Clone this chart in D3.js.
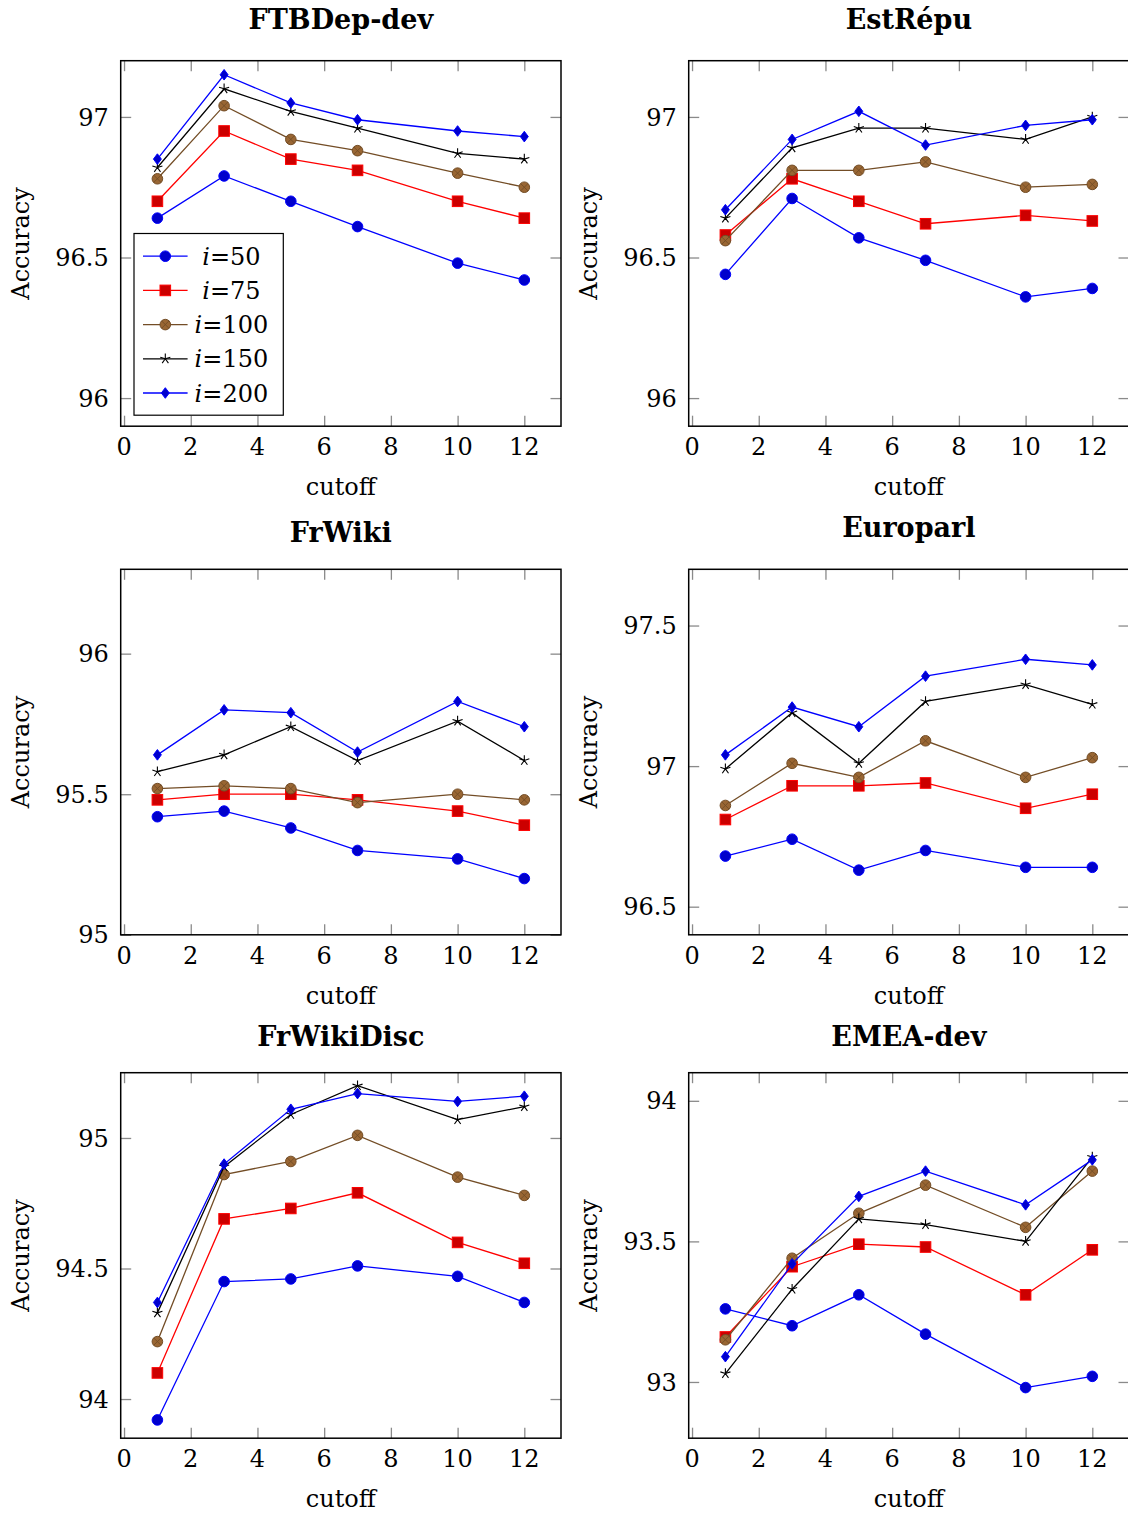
<!DOCTYPE html>
<html>
<head>
<meta charset="utf-8">
<script src="https://cdn.jsdelivr.net/npm/d3@7"></script>
<style>
  html, body { margin: 0; padding: 0; background: #fff; }
  svg { display: block; }
</style>
</head>
<body>
<svg id="chart" width="1128" height="1513"></svg>
<script>
// ---------------- data ----------------
const cutoffs = [1, 3, 5, 7, 10, 12];
const iValues = [50, 75, 100, 150, 200];
const xTicks = [0, 2, 4, 6, 8, 10, 12];
const panelTitles = ["FTBDep-dev", "EstRépu", "FrWiki", "Europarl", "FrWikiDisc", "EMEA-dev"];

// rows: i=50, i=75, i=100, i=150, i=200 ; columns follow cutoffs
const ftbDepDev = [
  [96.64, 96.79, 96.70, 96.61, 96.48, 96.42],
  [96.70, 96.95, 96.85, 96.81, 96.70, 96.64],
  [96.78, 97.04, 96.92, 96.88, 96.80, 96.75],
  [96.82, 97.10, 97.02, 96.96, 96.87, 96.85],
  [96.85, 97.15, 97.05, 96.99, 96.95, 96.93]
];
const estRepu = [
  [96.44, 96.71, 96.57, 96.49, 96.36, 96.39],
  [96.58, 96.78, 96.70, 96.62, 96.65, 96.63],
  [96.56, 96.81, 96.81, 96.84, 96.75, 96.76],
  [96.64, 96.89, 96.96, 96.96, 96.92, 97.00],
  [96.67, 96.92, 97.02, 96.90, 96.97, 96.99]
];
const frWiki = [
  [95.42, 95.44, 95.38, 95.30, 95.27, 95.20],
  [95.48, 95.50, 95.50, 95.48, 95.44, 95.39],
  [95.52, 95.53, 95.52, 95.47, 95.50, 95.48],
  [95.58, 95.64, 95.74, 95.62, 95.76, 95.62],
  [95.64, 95.80, 95.79, 95.65, 95.83, 95.74]
];
const europarl = [
  [96.68, 96.74, 96.63, 96.70, 96.64, 96.64],
  [96.81, 96.93, 96.93, 96.94, 96.85, 96.90],
  [96.86, 97.01, 96.96, 97.09, 96.96, 97.03],
  [96.99, 97.19, 97.01, 97.23, 97.29, 97.22],
  [97.04, 97.21, 97.14, 97.32, 97.38, 97.36]
];
const frWikiDisc = [
  [93.92, 94.45, 94.46, 94.51, 94.47, 94.37],
  [94.10, 94.69, 94.73, 94.79, 94.60, 94.52],
  [94.22, 94.86, 94.91, 95.01, 94.85, 94.78],
  [94.33, 94.89, 95.09, 95.20, 95.07, 95.12],
  [94.37, 94.90, 95.11, 95.17, 95.14, 95.16]
];
const emeaDev = [
  [93.26, 93.20, 93.31, 93.17, 92.98, 93.02],
  [93.16, 93.41, 93.49, 93.48, 93.31, 93.47],
  [93.15, 93.44, 93.60, 93.70, 93.55, 93.75],
  [93.03, 93.33, 93.58, 93.56, 93.50, 93.80],
  [93.09, 93.42, 93.66, 93.75, 93.63, 93.79]
];
const panelData = [ftbDepDev, estRepu, frWiki, europarl, frWikiDisc, emeaDev];

const yTicksList = [
  [96, 96.5, 97], [96, 96.5, 97], [95, 95.5, 96],
  [96.5, 97, 97.5], [94, 94.5, 95], [93, 93.5, 94]
];
const yDomains = [
  [95.9, 97.2], [95.9, 97.2], [95.0, 96.3],
  [96.4, 97.7], [93.85, 95.25], [92.8, 94.1]
];

// ---------------- styles (pgfplots default cycle) ----------------
const styles = [
  { line: "#0000ff", fill: "#0000cc", stroke: "#0000ff", mark: "circle" },
  { line: "#ff0000", fill: "#cc0000", stroke: "#ff0000", mark: "square" },
  { line: "#734d26", fill: "#996633", stroke: "#734d26", mark: "otimes" },
  { line: "#000000", fill: "none",    stroke: "#000000", mark: "star" },
  { line: "#0000ff", fill: "#0000cc", stroke: "#0000ff", mark: "diamond" }
];
const MS = 5.3; // mark size

const serif = "'DejaVu Serif', serif";
const tickSize = 24, labelSize = 24, legendSize = 24;
const titleFont = "'DejaVu Serif', serif";

const svg = d3.select("#chart");
const colX = [120.7, 688.7];
const rowY = [60.7, 569.3, 1072.7];
const boxW = 440.3, boxH = 365.5;

function drawMark(g, type, st) {
  if (type === "circle") {
    g.append("circle").attr("r", MS).attr("fill", st.fill).attr("stroke", st.stroke).attr("stroke-width", 1);
  } else if (type === "square") {
    g.append("rect").attr("x", -MS).attr("y", -MS).attr("width", 2 * MS).attr("height", 2 * MS)
      .attr("fill", st.fill).attr("stroke", st.stroke).attr("stroke-width", 1);
  } else if (type === "otimes") {
    g.append("circle").attr("r", MS).attr("fill", st.fill).attr("stroke", st.stroke).attr("stroke-width", 1);
    const d = MS * 0.7071;
    g.append("path").attr("d", `M${-d},${-d}L${d},${d}M${-d},${d}L${d},${-d}`)
      .attr("stroke", st.stroke).attr("stroke-width", 0.9).attr("fill", "none");
  } else if (type === "star") {
    let p = "";
    for (let k = 0; k < 5; k++) {
      const a = (90 + 72 * k) * Math.PI / 180;
      p += `M0,0L${(MS * Math.cos(a)).toFixed(2)},${(-MS * Math.sin(a)).toFixed(2)}`;
    }
    g.append("path").attr("d", p).attr("stroke", st.stroke).attr("stroke-width", 1.1).attr("fill", "none");
  } else if (type === "diamond") {
    const w = MS * 0.75;
    g.append("path").attr("d", `M0,${-MS}L${w},0L0,${MS}L${-w},0Z`)
      .attr("fill", st.fill).attr("stroke", st.stroke).attr("stroke-width", 1);
  }
}

panelData.forEach((data, pi) => {
  const col = pi % 2, row = Math.floor(pi / 2);
  const x0 = colX[col], y0 = rowY[row];
  const g = svg.append("g").attr("transform", `translate(${x0},${y0})`);

  const x = d3.scaleLinear().domain([-0.1, 13.1]).range([0, boxW]);
  const y = d3.scaleLinear().domain(yDomains[pi]).range([boxH, 0]);
  const yTicks = yTicksList[pi];

  // ticks (inside, on both sides)
  const tickLen = 10.5, tickColor = "#8a8a8a";
  const axB = d3.axisBottom(x).tickValues(xTicks).tickSize(-tickLen).tickFormat("");
  const axT = d3.axisTop(x).tickValues(xTicks).tickSize(-tickLen).tickFormat("");
  const axL = d3.axisLeft(y).tickValues(yTicks).tickSize(-tickLen).tickFormat("");
  const axR = d3.axisRight(y).tickValues(yTicks).tickSize(-tickLen).tickFormat("");
  [[axB, `translate(0,${boxH})`], [axT, "translate(0,0)"], [axL, "translate(0,0)"], [axR, `translate(${boxW},0)`]]
    .forEach(([ax, tr]) => {
      const a = g.append("g").attr("transform", tr).call(ax);
      a.select(".domain").remove();
      a.selectAll(".tick line").attr("stroke", tickColor).attr("stroke-width", 1.3);
    });

  // tick labels
  g.append("g").selectAll("text").data(xTicks).join("text")
    .attr("x", d => x(d)).attr("y", boxH + 29)
    .attr("text-anchor", "middle")
    .attr("font-family", serif).attr("font-size", tickSize)
    .text(d => d);
  g.append("g").selectAll("text").data(yTicks).join("text")
    .attr("x", -12).attr("y", d => y(d)).attr("dy", "0.36em")
    .attr("text-anchor", "end")
    .attr("font-family", serif).attr("font-size", tickSize)
    .text(d => String(d));

  // series
  data.forEach((vals, si) => {
    const st = styles[si];
    const pts = cutoffs.map((c, k) => [c, vals[k]]);
    const line = d3.line().x(d => x(d[0])).y(d => y(d[1]));
    g.append("path").datum(pts).attr("d", line)
      .attr("fill", "none").attr("stroke", st.line).attr("stroke-width", 1.3);
    pts.forEach(p => {
      const m = g.append("g").attr("transform", `translate(${x(p[0])},${y(p[1])})`);
      drawMark(m, st.mark, st);
    });
  });

  // axis box
  g.append("rect").attr("x", 0).attr("y", 0).attr("width", boxW).attr("height", boxH)
    .attr("fill", "none").attr("stroke", "#000").attr("stroke-width", 1.5);

  // title
  const title = panelTitles[pi];
  const desc = /[pqgjy]/.test(title) ? 5 : 0;
  g.append("text").attr("x", boxW / 2).attr("y", -27 - desc)
    .attr("text-anchor", "middle")
    .attr("font-family", titleFont).attr("font-weight", "bold").attr("font-size", 27)
    .text(title);

  // axis labels
  g.append("text").attr("x", boxW / 2).attr("y", boxH + 69)
    .attr("text-anchor", "middle")
    .attr("font-family", serif).attr("font-size", labelSize)
    .text("cutoff");
  g.append("text")
    .attr("transform", `translate(-92,${boxH / 2}) rotate(-90)`)
    .attr("text-anchor", "middle")
    .attr("font-family", serif).attr("font-size", labelSize)
    .text("Accuracy");

  // legend in first panel
  if (pi === 0) {
    const lx = 13.3, lw = 149.3, lh = 181.7;
    const ly = boxH - 11 - lh;
    const lg = g.append("g").attr("transform", `translate(${lx},${ly})`);
    lg.append("rect").attr("width", lw).attr("height", lh)
      .attr("fill", "#fff").attr("stroke", "#000").attr("stroke-width", 1.2);
    iValues.forEach((iv, si) => {
      const st = styles[si];
      const cy = 22.7 + si * 34.2;
      lg.append("line").attr("x1", 9).attr("x2", 53.6).attr("y1", cy).attr("y2", cy)
        .attr("stroke", st.line).attr("stroke-width", 1.3);
      const m = lg.append("g").attr("transform", `translate(31.3,${cy})`);
      drawMark(m, st.mark, st);
      const t = lg.append("text").attr("x", 97.4).attr("y", cy).attr("dy", "0.36em")
        .attr("text-anchor", "middle")
        .attr("font-family", serif).attr("font-size", legendSize);
      t.append("tspan").attr("font-style", "italic").text("i");
      t.append("tspan").text("=" + iv);
    });
  }
});
</script>
</body>
</html>
